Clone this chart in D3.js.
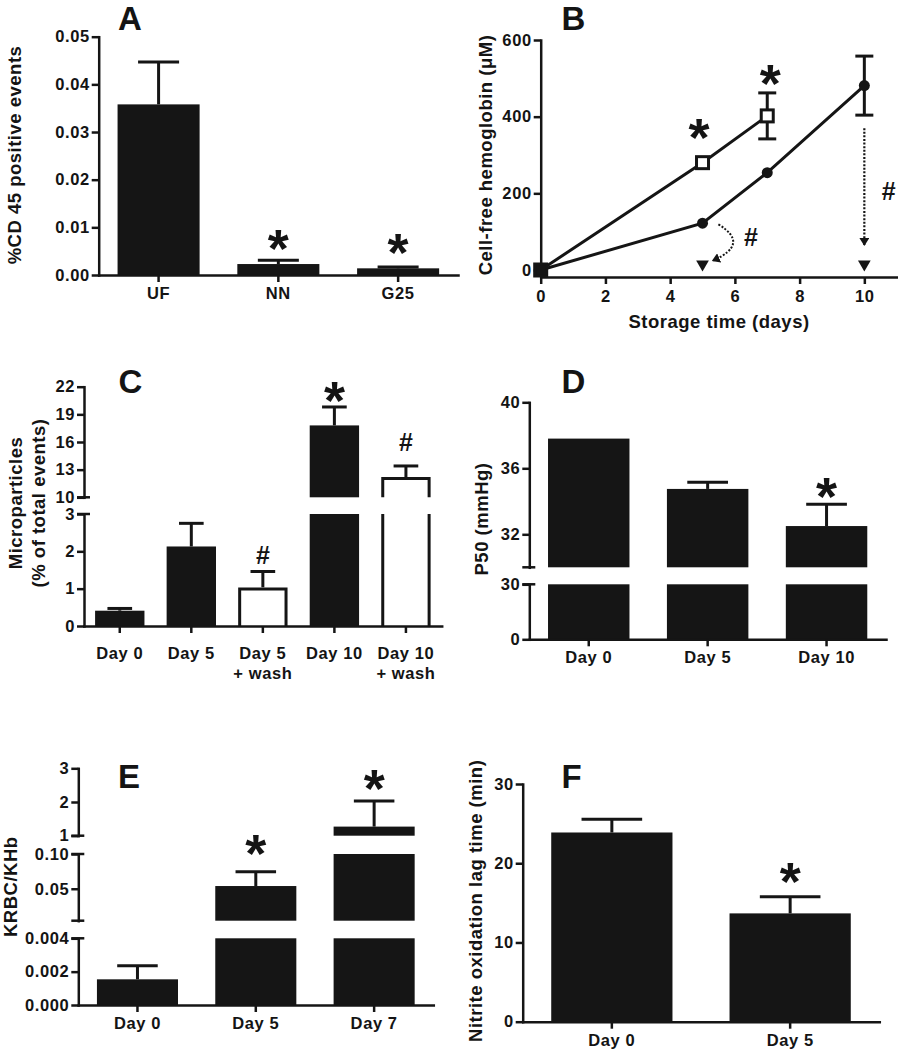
<!DOCTYPE html>
<html><head><meta charset="utf-8">
<script src="https://cdn.jsdelivr.net/npm/d3@7"></script>
<style>
body{margin:0;background:#fff;}
svg{display:block;}
text{font-family:"Liberation Sans",Arial,Helvetica,sans-serif;font-weight:bold;fill:#141414;}
</style></head><body>
<svg id="chart" width="898" height="1050"></svg>
<script>
// ================= DATA =================
// Panel A
const aCategories = ["UF", "NN", "G25"];
const aValues = [0.0358, 0.0023, 0.0014];
const aErrors = [0.0089, 0.0008, 0.0003];
const aTicks = [0, 0.01, 0.02, 0.03, 0.04, 0.05];
const aMarks = [{cat: "NN", value: 0.0080, mark: "*"}, {cat: "G25", value: 0.0071, mark: "*"}];

// Panel B
const bTicksX = [0, 2, 4, 6, 8, 10];
const bTicksY = [0, 200, 400, 600];
const bDaysFilled = [0, 5, 7, 10];
const bValuesFilled = [0, 122, 254, 481];
const bErrorsFilled = [0, 0, 0, 77];
const bDaysOpen = [0, 5, 7];
const bValuesOpen = [0, 280, 402];
const bErrorsOpen = [0, 0, 60];
const bWashedDays = [5, 10];
const bWashedValues = [15, 15];
const bMarks = [
  {day: 4.89, value: 374, mark: "*"}, {day: 7.09, value: 517, mark: "*"},
  {day: 6.5, value: 86, mark: "#"}, {day: 10.75, value: 206, mark: "#"}
];
const bArrowCurve = [[5.49, 119], [6.49, 68], [5.31, 24]];
const bArrowStraight = [[10, 370], [10, 65]];

// Panel C
const cCategories = ["Day 0", "Day 5", "Day 5 + wash", "Day 10", "Day 10 + wash"];
const cValues = [0.41, 2.13, 1.03, 17.8, 12.2];
const cErrors = [0.06, 0.62, 0.43, 2.0, 1.2];
const cWashed = [false, false, true, false, true];
const cSegments = [[0, 3], [10, 22]];
const cTicks = [[0, 1, 2, 3], [10, 13, 16, 19, 22]];
const cMarks = [{cat: "Day 5 + wash", value: 1.9, mark: "#"}, {cat: "Day 10", value: 21.7, mark: "*"}, {cat: "Day 10 + wash", value: 16.0, mark: "#"}];

// Panel D
const dCategories = ["Day 0", "Day 5", "Day 10"];
const dValues = [37.8, 34.75, 32.5];
const dErrors = [0, 0.4, 1.32];
const dSegments = [[0, 30], [30, 40]];
const dTicks = [[0, 30], [32, 36, 40]];
const dMarks = [{cat: "Day 10", value: 35.0, mark: "*"}];

// Panel E
const eCategories = ["Day 0", "Day 5", "Day 7"];
const eValues = [0.00154, 0.0539, 1.27];
const eErrors = [0.00082, 0.0206, 0.76];
const eSegments = [[0, 0.004], [0.004, 0.10], [1, 3]];
const eTicks = [[0, 0.002, 0.004], [0.05, 0.10], [1, 2, 3]];
const eMarks = [{cat: "Day 5", value: 0.1166, mark: "*"}, {cat: "Day 7", value: 2.73, mark: "*"}];

// Panel F
const fCategories = ["Day 0", "Day 5"];
const fValues = [23.88, 13.67];
const fErrors = [1.67, 2.11];
const fTicks = [0, 10, 20, 30];
const fMarks = [{cat: "Day 5", value: 19.1, mark: "*"}];

// ================= STYLE =================
const INK = "#151515";
const TICK_FS = 16.5, TITLE_FS = 18.5, LETTER_FS = 33;
const svg = d3.select("#chart");

const defs = svg.append("defs");
defs.append("marker").attr("id", "arrowHead").attr("viewBox", "0 0 10 10")
  .attr("refX", 9).attr("refY", 5).attr("markerWidth", 8).attr("markerHeight", 10)
  .attr("markerUnits", "userSpaceOnUse").attr("orient", "auto").attr("preserveAspectRatio", "none")
  .append("path").attr("d", "M0,0L10,5L0,10z").attr("fill", INK);

function styleAxis(g) {
  g.attr("font-size", TICK_FS).attr("font-family", null);
  g.selectAll("path.domain").attr("stroke", INK).attr("stroke-width", 2.5).attr("stroke-linecap", "square");
  g.selectAll("line").attr("stroke", INK).attr("stroke-width", 2.5);
  g.selectAll("text").style("letter-spacing", "0.6px");
}
function panelLetter(t, x, y) {
  svg.append("text").attr("x", x).attr("y", y).attr("text-anchor", "middle").attr("font-size", LETTER_FS).text(t);
}
function yTitle(lines, baselines, cy) {
  lines.forEach((l, i) => svg.append("text")
    .attr("transform", `translate(${baselines[i]},${cy}) rotate(-90)`)
    .attr("text-anchor", "middle").attr("font-size", TITLE_FS).style("letter-spacing", "0.5px").text(l));
}
function markText(g, t, cx, cy) {
  const fs = t === "*" ? 54 : 25;
  const k = t === "*" ? 0.55 : 0.35;
  g.append("text").attr("x", cx).attr("y", cy + k * fs).attr("text-anchor", "middle").attr("font-size", fs).text(t);
}

function barPanel(o) {
  const g = svg.append("g");
  const x = d3.scaleBand().domain(o.cats).range(o.xRange);
  const bw = x.bandwidth() * o.barFrac;
  const cx = c => x(c) + x.bandwidth() / 2;
  const segs = o.segDomains.map((dom, i) => ({
    dom, ticks: o.segTicks[i], fmt: o.segFmt[i],
    y: d3.scaleLinear().domain(dom).range(o.segRanges[i])
  }));
  const segOf = v => { let s = segs[0]; segs.forEach(q => { if (v >= q.dom[0]) s = q; }); return s; };
  const base = o.segRanges[0][0];
  const axisX = o.xRange[0];

  // error bars first
  o.cats.forEach((c, i) => {
    const v = o.values[i], e = o.errors[i];
    if (!e) return;
    const s = segOf(v);
    const capW = bw * 0.5;
    g.append("line").attr("x1", cx(c)).attr("x2", cx(c)).attr("y1", s.y(v)).attr("y2", s.y(v + e))
      .attr("stroke", INK).attr("stroke-width", 3);
    g.append("line").attr("x1", cx(c) - capW / 2).attr("x2", cx(c) + capW / 2).attr("y1", s.y(v + e)).attr("y2", s.y(v + e))
      .attr("stroke", INK).attr("stroke-width", 3);
  });
  // bars
  o.cats.forEach((c, i) => {
    const v = o.values[i];
    const open = o.open ? o.open[i] : false;
    const x0 = cx(c) - bw / 2, x1 = cx(c) + bw / 2;
    segs.forEach((s, si) => {
      if (si > 0 && v <= s.dom[0]) return;
      const top = Math.min(v, s.dom[1]);
      const yb = s.y(s.dom[0]), yt = s.y(top);
      if (!open) {
        g.append("rect").attr("x", x0).attr("y", yt).attr("width", bw).attr("height", yb - yt).attr("fill", INK);
      } else {
        const ends = v <= s.dom[1];
        const p = d3.path();
        const l = x0 + 1.5, r = x1 - 1.5, t = ends ? yt + 1.5 : yt;
        g.append("rect").attr("x", x0).attr("y", yt).attr("width", bw).attr("height", yb - yt).attr("fill", "#fff");
        p.moveTo(l, yb); p.lineTo(l, t);
        if (ends) p.lineTo(r, t); else p.moveTo(r, t);
        p.lineTo(r, yb);
        g.append("path").attr("d", p.toString()).attr("fill", "none").attr("stroke", INK).attr("stroke-width", 3);
      }
    });
  });
  // y axis segments
  segs.forEach((s, si) => {
    const ag = g.append("g").attr("transform", `translate(${axisX},0)`)
      .call(d3.axisLeft(s.y).tickValues(s.ticks).tickFormat(d3.format(s.fmt)).tickSize(7).tickPadding(2).tickSizeOuter(0));
    styleAxis(ag);
    const caps = [];
    if (si > 0) caps.push(s.y(s.dom[0]));
    if (si < segs.length - 1) caps.push(s.y(s.dom[1]));
    caps.forEach(cy => g.append("line").attr("x1", axisX - 7).attr("x2", axisX + 6).attr("y1", cy).attr("y2", cy)
      .attr("stroke", INK).attr("stroke-width", 2.5));
  });
  // x axis
  const xg = g.append("g").attr("transform", `translate(0,${base})`)
    .call(d3.axisBottom(x).tickSize(7).tickSizeOuter(0).tickFormat(""));
  styleAxis(xg);
  o.cats.forEach(c => {
    const parts = c.split(" + ");
    const lines = parts.length > 1 ? [parts[0], "+ " + parts[1]] : parts;
    lines.forEach((l, li) => g.append("text").attr("x", cx(c)).attr("y", base + o.xLabOff + 0.36 * TICK_FS + li * 20)
      .attr("text-anchor", "middle").attr("font-size", TICK_FS).style("letter-spacing", "0.6px").text(l));
  });
  // marks
  o.marks.forEach(m => markText(g, m.mark, cx(m.cat), segOf(m.value).y(m.value)));
}

// ---------- Panel A ----------
barPanel({
  cats: aCategories, values: aValues, errors: aErrors,
  segDomains: [[0, 0.05]], segTicks: [aTicks], segFmt: [".2f"],
  segRanges: [[275, 36.7]], xRange: [98.7, 458], barFrac: 0.685, xLabOff: 18.3, marks: aMarks
});
panelLetter("A", 130, 30);
yTitle(["%CD 45 positive events"], [20.5], 155);

// ---------- Panel B ----------
(function () {
  const g = svg.append("g");
  const x = d3.scaleLinear().domain([0, 11]).range([540.7, 896.7]);
  const y = d3.scaleLinear().domain([0, 600]).range([270, 40]);
  const axisY = 277;
  const xa = g.append("g").attr("transform", `translate(0,${axisY})`)
    .call(d3.axisBottom(x).tickValues(bTicksX).tickSize(7).tickPadding(6.5).tickSizeOuter(0));
  styleAxis(xa);
  const ya = g.append("g").attr("transform", `translate(${x(0)},0)`)
    .call(d3.axisLeft(y).tickValues(bTicksY).tickSize(7).tickPadding(2).tickSizeOuter(0));
  styleAxis(ya);
  g.append("line").attr("x1", x(0)).attr("x2", x(0)).attr("y1", y(0)).attr("y2", axisY).attr("stroke", INK).attr("stroke-width", 2.5);

  const filled = bDaysFilled.map((d, i) => ({day: d, value: bValuesFilled[i], err: bErrorsFilled[i]}));
  const open = bDaysOpen.map((d, i) => ({day: d, value: bValuesOpen[i], err: bErrorsOpen[i]}));
  const washed = bWashedDays.map((d, i) => ({day: d, value: bWashedValues[i]}));
  const line = d3.line().x(d => x(d.day)).y(d => y(d.value));

  [filled, open].forEach(series => {
    series.filter(d => d.err > 0).forEach(d => {
      const xc = x(d.day);
      g.append("line").attr("x1", xc).attr("x2", xc).attr("y1", y(d.value - d.err)).attr("y2", y(d.value + d.err)).attr("stroke", INK).attr("stroke-width", 3);
      [d.value - d.err, d.value + d.err].forEach(v => g.append("line").attr("x1", xc - 9).attr("x2", xc + 9).attr("y1", y(v)).attr("y2", y(v)).attr("stroke", INK).attr("stroke-width", 3));
    });
    g.append("path").datum(series).attr("d", line).attr("fill", "none").attr("stroke", INK).attr("stroke-width", 3);
  });
  g.selectAll("circle.f").data(filled).join("circle").attr("cx", d => x(d.day)).attr("cy", d => y(d.value)).attr("r", 5.5).attr("fill", INK);
  g.selectAll("rect.o").data(open).join("rect")
    .attr("x", d => x(d.day) - 6).attr("y", d => y(d.value) - 6).attr("width", 12).attr("height", 12)
    .attr("fill", (d, i) => i === 0 ? INK : "#fff").attr("stroke", INK).attr("stroke-width", 3);
  g.selectAll("path.t").data(washed).join("path")
    .attr("transform", d => `translate(${x(d.day)},${y(d.value)}) rotate(180)`)
    .attr("d", d3.symbol(d3.symbolTriangle, 70)).attr("fill", INK);

  const pc = d3.path();
  pc.moveTo(x(bArrowCurve[0][0]), y(bArrowCurve[0][1]));
  pc.quadraticCurveTo(x(bArrowCurve[1][0]), y(bArrowCurve[1][1]), x(bArrowCurve[2][0]), y(bArrowCurve[2][1]));
  g.append("path").attr("d", pc.toString()).attr("fill", "none").attr("stroke", INK).attr("stroke-width", 2)
    .attr("stroke-dasharray", "2,1.6").attr("marker-end", "url(#arrowHead)");
  g.append("path").attr("d", d3.line().x(d => x(d[0])).y(d => y(d[1]))(bArrowStraight))
    .attr("fill", "none").attr("stroke", INK).attr("stroke-width", 2.2).attr("stroke-dasharray", "2,1.6").attr("marker-end", "url(#arrowHead)");

  bMarks.forEach(m => markText(g, m.mark, x(m.day), y(m.value)));
  g.append("text").attr("x", 719).attr("y", 327.5).attr("text-anchor", "middle").attr("font-size", TITLE_FS)
    .style("letter-spacing", "0.5px").text("Storage time (days)");
})();
panelLetter("B", 573.5, 30);
yTitle(["Cell-free hemoglobin (μM)"], [491.5], 155);

// ---------- Panel C ----------
barPanel({
  cats: cCategories, values: cValues, errors: cErrors, open: cWashed,
  segDomains: cSegments, segTicks: cTicks, segFmt: ["d", "d"],
  segRanges: [[626, 514], [497.3, 386.7]], xRange: [84, 441.7], barFrac: 0.69, xLabOff: 27.3, marks: cMarks
});
panelLetter("C", 130.5, 393);
yTitle(["Microparticles", "(% of total events)"], [21.5, 45], 503);

// ---------- Panel D ----------
barPanel({
  cats: dCategories, values: dValues, errors: dErrors,
  segDomains: dSegments, segTicks: dTicks, segFmt: ["d", "d"],
  segRanges: [[639.3, 584.3], [567.3, 402.3]], xRange: [529.3, 886], barFrac: 0.685, xLabOff: 17.4, marks: dMarks
});
panelLetter("D", 573.5, 393);
yTitle(["P50 (mmHg)"], [488], 519);

// ---------- Panel E ----------
barPanel({
  cats: eCategories, values: eValues, errors: eErrors,
  segDomains: eSegments, segTicks: eTicks, segFmt: [".3f", ".2f", "d"],
  segRanges: [[1005, 938.3], [920.7, 854], [835.7, 768.3]], xRange: [78.3, 433.3], barFrac: 0.685, xLabOff: 18.3, marks: eMarks
});
panelLetter("E", 129, 788);
yTitle(["KRBC/KHb"], [17], 886.7);

// ---------- Panel F ----------
barPanel({
  cats: fCategories, values: fValues, errors: fErrors,
  segDomains: [[0, 30]], segTicks: [fTicks], segFmt: ["d"],
  segRanges: [[1021.7, 784]], xRange: [522.7, 879.3], barFrac: 0.68, xLabOff: 18.3, marks: fMarks
});
panelLetter("F", 571.7, 788);
yTitle(["Nitrite oxidation lag time (min)"], [481.5], 900.8);
</script>
</body></html>
